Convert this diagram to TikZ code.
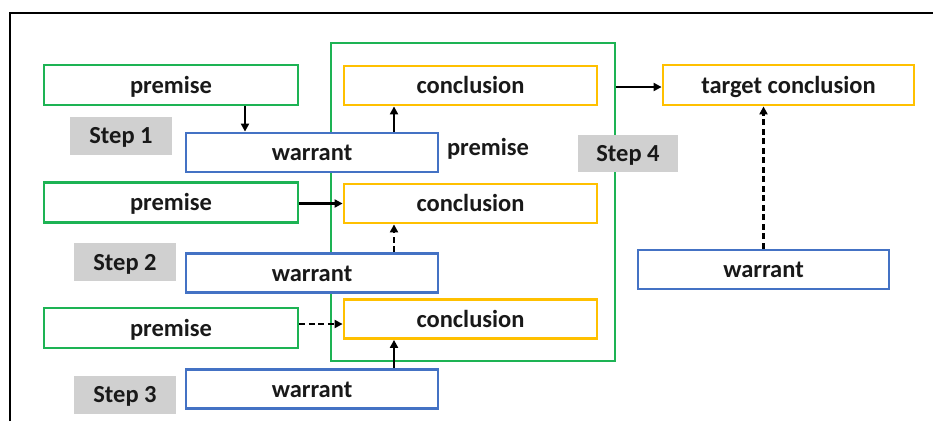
\documentclass[tikz,border=0pt]{standalone}
\usepackage{fontspec}
\setmainfont{Carlito}
\usetikzlibrary{arrows.meta}
\definecolor{pgreen}{HTML}{1DB354}
\definecolor{cyellow}{HTML}{FFC000}
\definecolor{wblue}{HTML}{4472C4}
\definecolor{sgray}{HTML}{D0D0D0}
\tikzset{
  txt/.style={font=\fontsize{24.5}{28}\selectfont\bfseries, text=black!90,
    text height=19pt, text depth=3pt},
  base/.style={rectangle, inner sep=0pt, line width=2.8pt, fill=white, txt},
  premisebox/.style={base, draw=pgreen, minimum width=254pt, minimum height=40pt},
  warrantbox/.style={base, draw=wblue, minimum width=252pt, minimum height=39pt},
  conclbox/.style={base, draw=cyellow, minimum width=253pt, minimum height=39pt},
  stepbox/.style={rectangle, inner sep=0pt, fill=sgray, draw=none,
    minimum width=102pt, minimum height=38pt, txt},
  arr/.style={line width=2.4pt, -{Triangle[length=8pt,width=8pt]}},
  darr/.style={arr, dash pattern=on 6pt off 3.5pt},
}
\begin{document}
\begin{tikzpicture}[x=1pt,y=-1pt]
\useasboundingbox (0,0) rectangle (933,421);
\draw[line width=2pt] (10,421) -- (10,13) -- (933,13);
% big green box
\node[rectangle, draw=pgreen, line width=2.8pt, inner sep=0pt,
  minimum width=284pt, minimum height=318pt] (group) at (473,202) {};
% step labels
\node[stepbox] (s1) at (121,135.5) {Step 1};
\node[stepbox] (s2) at (125,262) {Step 2};
\node[stepbox] (s3) at (125,394.5) {Step 3};
\node[stepbox, minimum width=100pt, minimum height=37pt] (s4) at (628,153.5) {Step 4};
% premises
\node[premisebox] (p1) at (171,85) {premise};
\node[premisebox] (p2) at (171,202.5) {premise};
\node[premisebox] (p3) at (171,328) {premise};
% warrants
\node[warrantbox] (w1) at (312,152.5) {warrant};
\node[warrantbox] (w2) at (312,273) {warrant};
\node[warrantbox] (w3) at (312,389) {warrant};
\node[warrantbox, minimum width=251pt] (w4) at (763.5,269.5) {warrant};
% conclusions
\node[conclbox] (c1) at (470.5,85.5) {conclusion};
\node[conclbox] (c2) at (470.5,203.5) {conclusion};
\node[conclbox] (c3) at (470.5,319) {conclusion};
\node[conclbox, minimum width=251pt, minimum height=40pt] (t) at (788.5,85) {target conclusion};
% free label
\node[txt, inner sep=0pt] (pl) at (488,147) {premise};
% helper coordinates
\coordinate (ax) at (245,0);
\coordinate (cx) at (394,0);
\coordinate (r3) at (0,324);
\coordinate (r4) at (0,87);
% connectors
\draw[arr] (p1.south -| ax) -- (w1.north -| ax);
\draw[arr] (w1.north -| cx) -- (c1.south -| cx);
\draw[arr] (p2.east |- c2.west) -- (c2.west);
\draw[darr] (w2.north -| cx) -- (c2.south -| cx);
\draw[darr] (p3.east |- r3) -- (c3.west |- r3);
\draw[arr] (w3.north -| cx) -- (c3.south -| cx);
\draw[arr] (group.east |- r4) -- (t.west |- r4);
\draw[darr] (w4.north) -- (w4.north |- t.south);
\end{tikzpicture}
\end{document}
